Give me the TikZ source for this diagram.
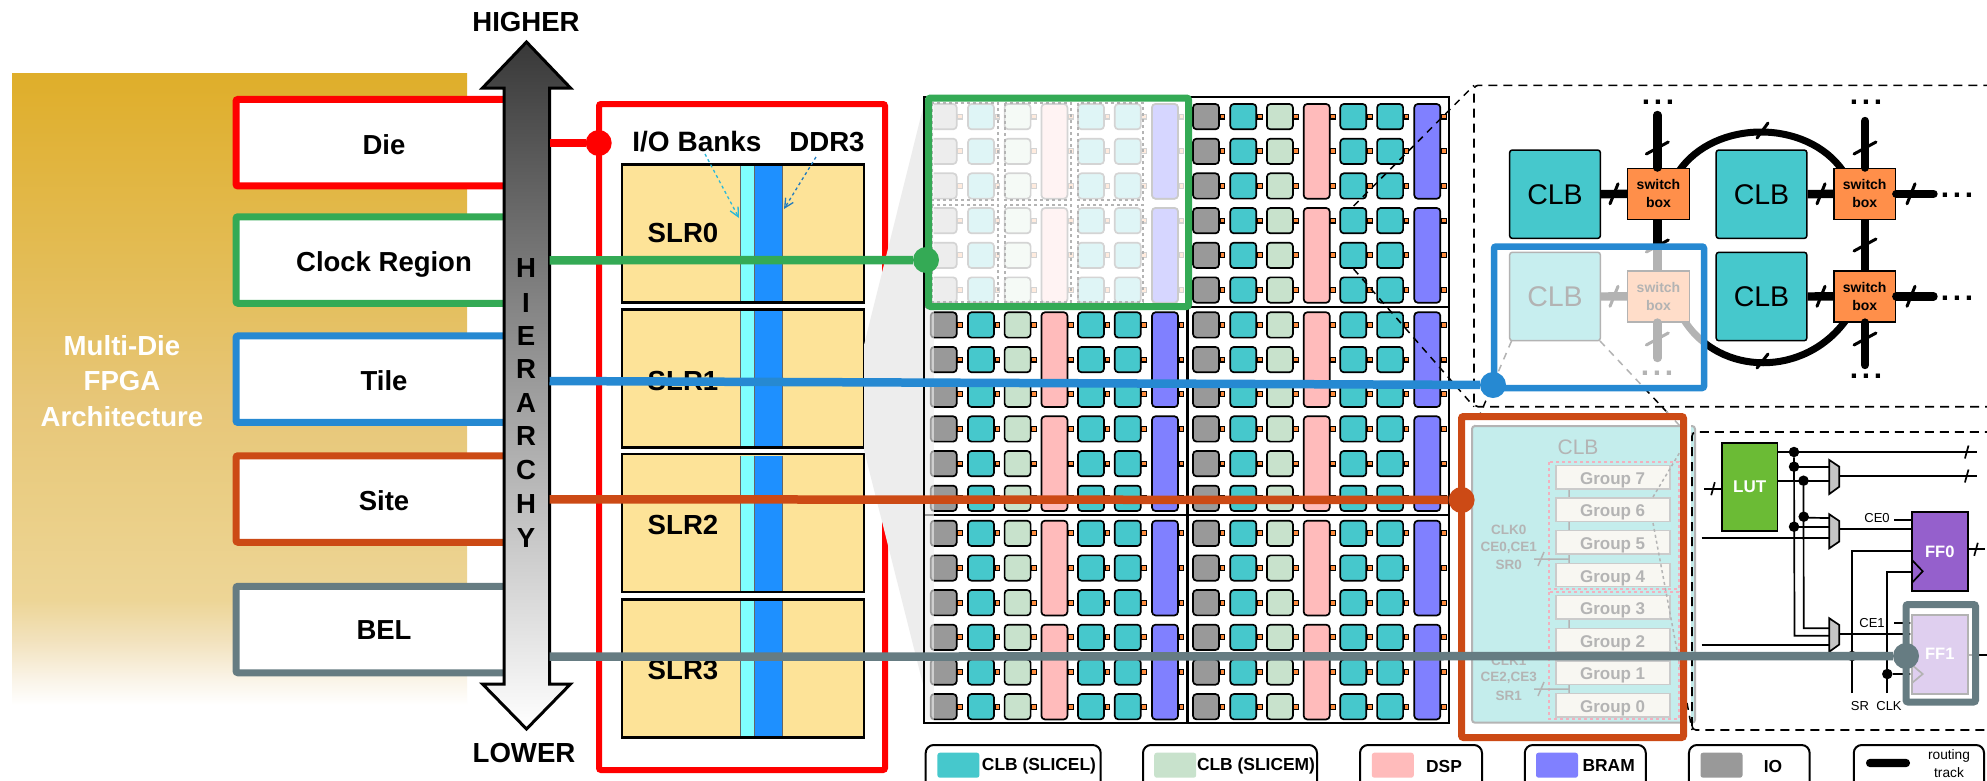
\documentclass[tikz,border=0pt]{standalone}
\usepackage{fontspec}
\setmainfont{Liberation Sans}
\usetikzlibrary{arrows.meta}
\definecolor{gA}{HTML}{DFAE2A}
\definecolor{gB}{HTML}{E4BF5E}
\definecolor{gB2}{HTML}{E7C678}
\definecolor{gC}{HTML}{EACE85}
\definecolor{gD}{HTML}{EDD596}
\definecolor{gE}{HTML}{F2E2BD}
\definecolor{gF}{HTML}{FAF4E8}
\pgfdeclareverticalshading{goldfade}{100bp}{color(0bp)=(white); color(25bp)=(white); color(27bp)=(gF); color(30.1bp)=(gE); color(33.3bp)=(gD); color(41.2bp)=(gC); color(49.1bp)=(gB2); color(57bp)=(gB); color(75bp)=(gA); color(100bp)=(gA)}
\definecolor{cred}{HTML}{FF0000}
\definecolor{cgreen}{HTML}{34AA55}
\definecolor{cblue}{HTML}{2689D2}
\definecolor{corange}{HTML}{CC4A15}
\definecolor{cslate}{HTML}{667C82}
\definecolor{cio}{HTML}{999999}
\definecolor{cclb}{HTML}{46C8CC}
\definecolor{csm}{HTML}{C8E2CC}
\definecolor{cdsp}{HTML}{FFBBBB}
\definecolor{cbram}{HTML}{8080FF}
\definecolor{cbramfade}{HTML}{D6D6FF}
\definecolor{cpin}{HTML}{FF8C3C}
\definecolor{cslr}{HTML}{FDE398}
\definecolor{cband}{HTML}{7FFFFF}
\definecolor{cdeep}{HTML}{1E90FF}
\definecolor{csw}{HTML}{FF8F4A}
\definecolor{clut}{HTML}{6BBB35}
\definecolor{cff}{HTML}{9560CC}
\definecolor{cinset}{HTML}{C4EDEC}
\definecolor{cgroup}{HTML}{F8F7F2}
\definecolor{cfade}{HTML}{B4B4B4}
\definecolor{cpink}{HTML}{F2B0BE}
\definecolor{cmux}{HTML}{C4C4C4}
\definecolor{cioarrow}{HTML}{2BB8D8}
\tikzset{
  big/.style={font=\fontsize{27.6}{30}\selectfont\bfseries,inner sep=0pt},
  level/.style={draw=#1,fill=white,line width=7pt,rounded corners=2pt,minimum width=296pt,minimum height=86.5pt,inner sep=0pt},
  levellabel/.style={anchor=base,inner sep=0pt,font=\fontsize{27.5}{30}\selectfont\bfseries},
  link/.style={draw=#1,line width=8.5pt},
  hub/.style={circle,fill=#1,minimum size=26pt,inner sep=0pt},
  slrbox/.style={draw=black,fill=cslr,line width=2.4pt,minimum width=242pt,minimum height=138pt,inner sep=0pt},
  cell/.style={draw=black,line width=1.7pt,rounded corners=3.5pt},
  pinbox/.style={draw=black,fill=cpin,line width=1.1pt},
  zoomline/.style={draw=black,dashed,line width=1.5pt,dash pattern=on 7pt off 6pt},
  clbnode/.style={draw=black,fill=cclb,line width=1.5pt,rounded corners=2.5pt,minimum width=90.6pt,minimum height=88.3pt,inner sep=0pt,font=\fontsize{28.5}{30}\selectfont},
  swnode/.style={draw=black,fill=csw,line width=1.5pt,minimum width=61.7pt,minimum height=51pt,inner sep=0pt,align=center,font=\fontsize{14}{18}\selectfont\bfseries},
  track/.style={draw=black,line width=8.4pt},
  trackend/.style={draw=black,line width=8.4pt,line cap=round},
  arc/.style={draw=black,line width=7pt},
  slash/.style={draw=black,line width=3pt,line cap=round},
  dots/.style={font=\fontsize{30}{30}\selectfont\bfseries,inner sep=0pt,anchor=base},
  groupbox/.style={draw=cfade!70,fill=cgroup,line width=1.5pt,minimum width=114pt,minimum height=23.3pt,inner sep=0pt},
  grouptext/.style={anchor=base,inner sep=0pt,text=cfade,font=\fontsize{17}{20}\selectfont\bfseries},
  fadetext/.style={text=cfade,inner sep=0pt,font=\fontsize{13.5}{16}\selectfont\bfseries},
  thin/.style={draw=black,line width=1.7pt},
  junction/.style={circle,fill=black,minimum size=10.5pt,inner sep=0pt},
  muxshape/.style={draw=black,fill=cmux,line width=1.7pt},
  smalltext/.style={inner sep=0pt,font=\fontsize{13}{15}\selectfont},
  ffbox/.style={draw=black,fill=cff,line width=1.7pt,minimum width=55.7pt,minimum height=79pt,inner sep=0pt,text=white,font=\fontsize{16.5}{20}\selectfont\bfseries},
  legendbox/.style={draw=black,line width=2pt,rounded corners=8pt,minimum height=50pt,inner sep=0pt,fill=white},
  legendtext/.style={inner sep=0pt,font=\fontsize{17.4}{20}\selectfont\bfseries},
  swatch/.style={fill=#1,rounded corners=2.5pt,minimum width=42pt,minimum height=25pt,inner sep=0pt},
}
\begin{document}
\begin{tikzpicture}[x=1pt,y=-1pt]
\clip (0,0) rectangle (1987,780);
\fill[white] (0,0) rectangle (1987,780);
% gold panel
\path[shading=goldfade] (12,73) rectangle (467,705);
\node[big,text=white,align=center] (archtitle) at (122,381) {Multi-Die\\[5.5pt]FPGA\\[5.5pt]Architecture};
% level boxes
\node[level=cred] (die) at (384,142.7) {};
\node[level=cgreen] (clockregion) at (384,260) {};
\node[level=cblue] (tile) at (384,379.2) {};
\node[level=corange] (site) at (384,499) {};
\node[level=cslate] (bel) at (384,629.5) {};
\node[levellabel] (dielab) at (384,154) {Die};
\node[levellabel] (crlab) at (384,271) {Clock Region};
\node[levellabel] (tilelab) at (384,390) {Tile};
\node[levellabel] (sitelab) at (384,510) {Site};
\node[levellabel] (bellab) at (384,639.5) {BEL};
% hierarchy arrow
\path[draw=black,line width=3pt,top color=black!78,bottom color=white,line join=miter]
 (526.5,42) -- (570.5,88) -- (549.5,88) -- (549.5,684) -- (570.5,684) -- (526.5,729) -- (482.5,684) -- (504,684) -- (504,88) -- (482.5,88) -- cycle;
\node[big] (higher) at (526,22) {HIGHER};
\node[big] (lower) at (524,753) {LOWER};
\foreach \ch/\yy [count=\i] in {H/268,I/303,E/336,R/369,A/403,R/436,C/470,H/504,Y/538}{
  \node[big] (hier\i) at (526,\yy) {\ch};
}
% die box
\draw[cred,line width=6pt,rounded corners=2pt] (599,104) rectangle (885,770);
\foreach \nm/\yy/\lb/\ly in {a/233.5/SLR0/233,b/378.5/SLR1/381,c/523/SLR2/525,d/668.5/SLR3/670}{
  \node[slrbox] (slr\nm) at (743,\yy) {};
  \fill[cband] (740,\yy-67.5) rectangle (754,\yy+67.5);
  \fill[cdeep] (754,\yy-67.5) rectangle (782,\yy+67.5);
  \draw[black!60,line width=.6pt] (740,\yy-67.5) -- (740,\yy+67.5) (754,\yy-67.5) -- (754,\yy+67.5) (782,\yy-67.5) -- (782,\yy+67.5);
  \node[big] (lab\nm) at (683,\ly) {\lb};
}
\node[big,font=\fontsize{28}{30}\selectfont\bfseries] (iobanks) at (697,142) {I/O Banks};
\node[big] (ddr) at (827,142) {DDR3};
\coordinate (iotip) at (739,218);
\coordinate (ddrtip) at (784,209);
\draw[draw=cioarrow,dashed,line width=1.3pt,-{Straight Barb[length=9pt,width=9pt]}] (705,154) -- (iotip);
\draw[draw=cblue!90!black,dashed,line width=1.3pt,-{Straight Barb[length=9pt,width=9pt]}] (816,157) -- (ddrtip);
% grey funnel
\fill[black!7] (864,345) -- (925,100) -- (925,720) -- (932,720) -- (864,450) -- cycle;
% fabric
\fill[white] (924,97) rectangle (1449,723);
\foreach \hx in {0,262.3}{\foreach \ry in {104,312.3,520.7}{
  \foreach \k in {0,...,5}{
    \pgfmathsetmacro\yy{\ry+34.67*\k}
    \foreach \cx/\cc in {930.7/cio,968/cclb,1004.6/csm,1078/cclb,1114.8/cclb}{
      \pgfmathsetmacro\xx{\cx+\hx}
      \path[cell,fill=\cc] (\xx,\yy) rectangle ++(26,25.3);
    }
    \foreach \cx in {930.7,968,1004.6,1041.4,1078,1114.8,1152}{
      \pgfmathsetmacro\xx{\cx+\hx+27}
      \path[pinbox] (\xx,\yy+10.2) rectangle ++(4.8,4.8);
    }
  }
  \foreach \k in {0,3}{
    \pgfmathsetmacro\yy{\ry+34.67*\k}
    \pgfmathsetmacro\xa{1041.4+\hx}
    \pgfmathsetmacro\xb{1152+\hx}
    \path[cell,fill=cdsp] (\xa,\yy) rectangle ++(26,94.7);
    \path[cell,fill=cbram] (\xb,\yy) rectangle ++(26,94.7);
  }
}}
\draw[black,line width=2.4pt] (924,97) rectangle (1449,723) (1187.5,97) -- (1187.5,723) (924,307) -- (1449,307) (924,515) -- (1449,515);
% funnel veil over the fabric edge
\fill[black!7,opacity=.65] (925,100) rectangle (934,720);
% faded clock region
\fill[white,opacity=.83] (927,99) rectangle (1190,306);
\foreach \ya in {104,208}{
  \path[draw=cfade!70,fill=cbramfade,line width=1.7pt,rounded corners=3.5pt] (1152,\ya) rectangle ++(26,94.7);
}
\foreach \xa/\xb in {932/998,1005/1071,1078/1143}{
  \draw[cfade,dashed,line width=1.4pt] (\xa,103) rectangle (\xb,200);
  \draw[cfade,dashed,line width=1.4pt] (\xa,205) rectangle (\xb,302);
}
\draw[cgreen,line width=7pt,rounded corners=2pt] (928.5,98) rectangle (1188.5,306.5);
% zoom lines, switch fabric
\coordinate (zA) at (1353.6,206);
\coordinate (zB) at (1353.6,269);
\coordinate (zC) at (1474,85.3);
\coordinate (zD) at (1474,406.7);
\draw[zoomline] (zA) -- (zC);
\draw[zoomline] (zB) -- (zD);
\draw[black,dashed,line width=1.6pt,dash pattern=on 9pt off 6pt,rounded corners=4pt] (1474,406.7) rectangle (2010,85.3);
% routing
\coordinate (arcA) at (1679,171);
\coordinate (arcB) at (1843,171);
\coordinate (arcC) at (1684,320);
\coordinate (arcD) at (1846,320);
\draw[arc] (arcA) .. controls (1715,119) and (1807,119) .. (arcB);
\draw[arc] (arcC) .. controls (1720,377) and (1805,377) .. (arcD);
\node[clbnode] (clbA) at (1555,194.2) {CLB};
\node[clbnode] (clbB) at (1761.5,194.2) {CLB};
\node[clbnode] (clbC) at (1555,296.5) {CLB};
\node[clbnode] (clbD) at (1761.5,296.5) {CLB};
\node[swnode] (swA) at (1658.5,193.8) {switch\\box};
\node[swnode] (swB) at (1864.7,193.8) {switch\\box};
\node[swnode] (swC) at (1658.5,296.3) {switch\\box};
\node[swnode] (swD) at (1864.7,296.3) {switch\\box};
\coordinate (topA) at (1657.3,115);
\coordinate (topB) at (1865,121);
\coordinate (botC) at (1657.3,358);
\coordinate (botD) at (1865,365);
\coordinate (rgtB) at (1933.5,193.8);
\coordinate (rgtD) at (1933.5,296.3);
\draw[track] (clbA.east) -- (swA.west);
\draw[track] (clbB.east) -- (swB.west);
\draw[track] (clbC.east) -- (swC.west);
\draw[track] (clbD.east) -- (swD.west);
\draw[track] (swA.south -| topA) -- (swC.north -| topA);
\draw[track] (swB.south -| topB) -- (swD.north -| topB);
\draw[trackend] (swA.north -| topA) -- (topA);
\draw[trackend] (swB.north -| topB) -- (topB);
\draw[trackend] (swC.south -| botC) -- (botC);
\draw[trackend] (swD.south -| botD) -- (botD);
\draw[trackend] (swB.east) -- (rgtB);
\draw[trackend] (swD.east) -- (rgtD);
\foreach \px/\py in {1657.3/148,1865/148,1657.3/246,1865/245,1657.3/339,1865/339}{
  \draw[slash] (\px,\py) ++(-11,6) -- ++(22,-12);
}
\foreach \px/\py in {1614/193.8,1821/193.8,1911/193.8,1614/296.3,1821/296.3,1911/296.3}{
  \draw[slash] (\px,\py) ++(-4,10) -- ++(8,-20);
}
\draw[slash] (1757,138) -- (1768,123);
\draw[slash] (1757,368) -- (1768,354);
\node[dots] (dA) at (1658,104) {.\kern3.7pt.\kern3.7pt.};
\node[dots] (dB) at (1866,104) {.\kern3.7pt.\kern3.7pt.};
\node[dots] (dC) at (1957,197.5) {.\kern3.7pt.\kern3.7pt.};
\node[dots] (dD) at (1957,300.5) {.\kern3.7pt.\kern3.7pt.};
\node[dots] (dE) at (1657,375) {.\kern3.7pt.\kern3.7pt.};
\node[dots] (dF) at (1866,378) {.\kern3.7pt.\kern3.7pt.};
% zoom lines, CLB to site
\coordinate (zE) at (1511.5,341);
\coordinate (zF) at (1600,341);
\coordinate (zG) at (1475,426);
\coordinate (zH) at (1680,426);
\draw[zoomline] (zE) -- (zG);
\draw[zoomline] (zF) -- (zH);
% faded tile
\fill[white,opacity=.7] (1497,250) rectangle (1701,385);
\draw[cblue,line width=6.5pt,rounded corners=2pt] (1494,246.5) rectangle (1704,388);
% site detail
\fill[white] (1462,417) rectangle (1684,737);
\draw[zoomline,cfade] (zE) ++(-31,72) -- (zG);
\draw[zoomline,cfade] (zF) ++(66,70) -- (zH);
\draw[cfade,fill=cinset,line width=2pt,rounded corners=3pt] (1472,426) rectangle (1695,722.7);
\node[inner sep=0pt,text=cfade,font=\fontsize{21}{24}\selectfont] (clbtitle) at (1578,447) {CLB};
\draw[cpink,dashed,line width=1.4pt] (1549,462) rectangle (1679,589);
\draw[cpink,dashed,line width=1.4pt] (1549,592) rectangle (1679,719);
\draw[cfade,line width=1.5pt] (1569,489) -- (1569,586) (1534,559) -- (1569,559) (1538,566) -- (1544,552);
\draw[cfade,line width=1.5pt] (1569,619) -- (1569,694) (1534,689) -- (1569,689) (1538,696) -- (1544,682);
\foreach \nm/\yy in {7/477.3,6/509.7,5/542.3,4/575,3/607.3,2/640.3,1/672.7,0/705.3}{
  \node[groupbox] (group\nm) at (1613,\yy) {};
  \node[grouptext] (glab\nm) at (1612.6,\yy+7) {Group \nm};
}
\node[fadetext] (clkA) at (1508.7,530) {CLK0};
\node[fadetext] (ceA) at (1508.7,548) {CE0,CE1};
\node[fadetext] (srA) at (1508.7,565) {SR0};
\node[fadetext] (clkB) at (1508.7,661) {CLK1};
\node[fadetext] (ceB) at (1508.7,678) {CE2,CE3};
\node[fadetext] (srB) at (1508.7,696) {SR1};
\coordinate (zI) at (1653,497);
\coordinate (zJ) at (1653,523);
\coordinate (zK) at (1692,432);
\coordinate (zL) at (1692,730);
\draw[cfade,dashed,line width=1.5pt] (zI) -- (zK);
\draw[cfade,dashed,line width=1.5pt] (zJ) -- (zL);
\fill[white] (1687,413) rectangle (1691,741);
\draw[zoomline] (1687,703) -- (zL);
\draw[corange,line width=7pt,rounded corners=2pt] (1461.5,416.5) rectangle (1683.5,737.5);
% BEL detail
\draw[black,dashed,line width=1.6pt,dash pattern=on 9pt off 6pt,rounded corners=4pt] (1692,730) rectangle (2010,432);
\node[draw=black,fill=clut,line width=1.7pt,minimum width=55.3pt,minimum height=87.4pt,inner sep=0pt,text=white,font=\fontsize{17}{20}\selectfont\bfseries] (lut) at (1749.7,487) {LUT};
\node[ffbox] (ffz) at (1939.8,551.7) {FF0};
\node[ffbox] (ffo) at (1939.8,654.2) {FF1};
\draw[thin,miter limit=2] (1912,560) -- (1922.7,571.3) -- (1912,582.7);
\draw[thin] (1912,665) -- (1922.7,674) -- (1912,683);
\path[muxshape] (1829.3,460) -- (1839.3,466.7) -- (1839.3,486.7) -- (1829.3,494) -- cycle;
\path[muxshape] (1829.3,514.3) -- (1839.3,521) -- (1839.3,541.5) -- (1829.3,548.3) -- cycle;
\path[muxshape] (1829.3,618.3) -- (1839.3,625) -- (1839.3,644.5) -- (1829.3,651.7) -- cycle;
\node[junction] (jA) at (1794,452) {};
\node[junction] (jB) at (1794,466.7) {};
\node[junction] (jC) at (1803.5,480.7) {};
\node[junction] (jD) at (1803.7,516.7) {};
\node[junction] (jE) at (1794,526.7) {};
\node[junction] (jF) at (1852,656) {};
\node[junction] (jG) at (1887.3,674) {};
\coordinate (endA) at (1976.7,452);
\coordinate (endB) at (1976.7,476);
\coordinate (inL) at (1704,488.7);
\coordinate (freeA) at (1701.7,538);
\coordinate (freeB) at (1701.7,645);
\coordinate (srEnd) at (1852,693);
\coordinate (clkEnd) at (1887.3,693);
\draw[thin] (lut.east |- jA) -- (endA);
\draw[thin] (jA) -- (1794.5,635.7) -- (1829.3,635.7);
\draw[thin] (jC) -- (1803.7,628.3) -- (1829.3,628.3);
\draw[thin] (jB) -- (1829.3,466.7);
\draw[thin] (lut.east |- jC) -- (1829.3,480.7);
\draw[thin] (jD) ++(0,1) -- (1829.3,518);
\draw[thin] (jE) ++(0,.3) -- (1829.3,527);
\draw[thin] (freeA) -- (1829.3,538);
\draw[thin] (freeB) -- (1829.3,645);
\draw[thin] (1839.3,476) -- (endB);
\draw[thin] (1839.3,529.3) -- (ffz.west |- 0,529.3);
\draw[thin] (1839.3,634.3) -- (ffo.west |- 0,634.3);
\draw[thin] (inL) -- (lut.west |- inL);
\draw[thin] (srEnd) -- (1852,551) -- (ffz.west |- 0,551);
\draw[thin] (clkEnd) -- (1887.3,571.7) -- (ffz.west |- 0,571.7);
\draw[thin] (jG) -- (ffo.west |- jG);
\draw[thin] (1894,519.7) -- (ffz.west |- 0,519.7);
\draw[thin] (1894,623) -- (ffo.west |- 0,623);
\draw[thin] (ffz.east |- 0,549.3) -- (1985,549.3);
\draw[thin] (ffo.east |- 0,655) -- (1987,655);
\foreach \px/\py in {1966.7/452,1966.7/476,1713/488.7,1976/549.3}{
  \draw[thin] (\px,\py) ++(-1.8,6.5) -- ++(3.6,-13);
}
\node[smalltext] (ceza) at (1877,518) {CE0};
\node[smalltext] (ceoa) at (1872,622.7) {CE1};
\node[smalltext] (srlab) at (1860,706) {SR};
\node[smalltext] (clklab) at (1889,706) {CLK};
% faded FF1
\fill[white,opacity=.7] (1909.5,608) rectangle (1972,698.5);
\draw[cslate,line width=7pt,rounded corners=2pt] (1906,604.5) rectangle (1975.5,702);
% legend
\node[legendbox,minimum width=175pt] (lgA) at (1013.2,770) {};
\node[swatch=cclb] (swA1) at (958.4,765.2) {};
\node[legendtext] (lgAt) at (1039,766) {CLB (SLICEL)};
\node[legendbox,minimum width=174pt] (lgB) at (1230,770) {};
\node[swatch=csm] (swB1) at (1175.2,765.2) {};
\node[legendtext] (lgBt) at (1256,766) {CLB (SLICEM)};
\node[legendbox,minimum width=122pt] (lgC) at (1421,770) {};
\node[swatch=cdsp] (swC1) at (1392.8,765.2) {};
\node[legendtext] (lgCt) at (1444,766) {DSP};
\node[legendbox,minimum width=121pt] (lgD) at (1585.3,770) {};
\node[swatch=cbram] (swD1) at (1557,765.2) {};
\node[legendtext] (lgDt) at (1608.7,766) {BRAM};
\node[legendbox,minimum width=120.7pt] (lgE) at (1749.3,770) {};
\node[swatch=cio] (swE1) at (1721.5,765.2) {};
\node[legendtext] (lgEt) at (1773,766) {IO};
\node[legendbox,minimum width=130.3pt] (lgF) at (1918.9,770) {};
\node[fill=black,rounded corners=4pt,minimum width=44pt,minimum height=8.3pt,inner sep=0pt] (pill) at (1888,763) {};
\node[inner sep=0pt,font=\fontsize{13.7}{16}\selectfont] (rt) at (1949,756) {routing};
\node[inner sep=0pt,font=\fontsize{13.7}{16}\selectfont] (tr) at (1949,773) {track};
% hierarchy links
\node[hub=cred] (dieHub) at (598.7,143) {};
\node[hub=cgreen] (crHub) at (926,260) {};
\node[hub=cblue] (tileHub) at (1493,385) {};
\node[hub=corange] (siteHub) at (1461.6,500) {};
\node[hub=cslate] (belHub) at (1906,656) {};
\coordinate (sDie) at (549.5,143);
\coordinate (sCr) at (549.5,260.3);
\coordinate (sTile) at (549.5,381);
\coordinate (sSite) at (549.5,499.3);
\coordinate (sBel) at (549.5,656.7);
\draw[link=cred] (sDie) -- (dieHub);
\draw[link=cgreen] (sCr) -- (crHub);
\draw[link=cblue] (sTile) -- (tileHub);
\draw[link=corange] (sSite) -- (siteHub);
\draw[link=cslate] (sBel) -- (belHub);
\end{tikzpicture}
\end{document}
